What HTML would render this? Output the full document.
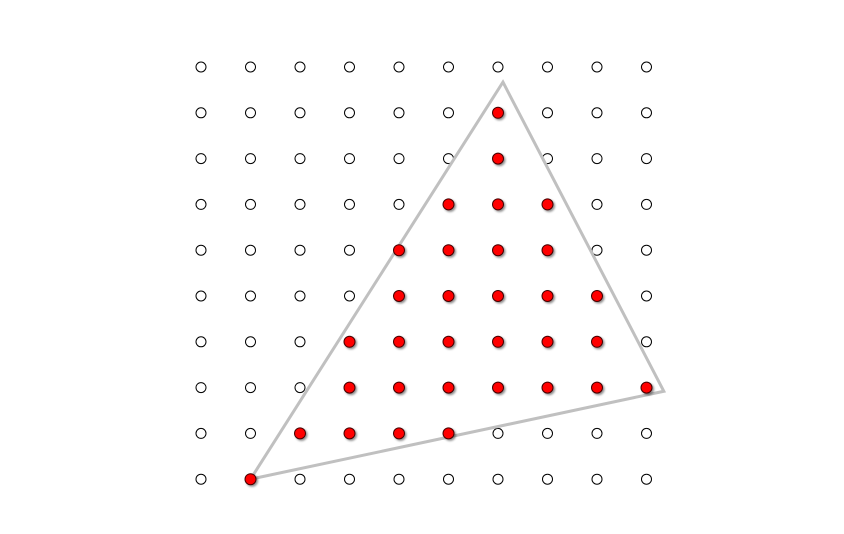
<!DOCTYPE html>
<html><head><meta charset="utf-8"><style>html,body{margin:0;padding:0;background:#fff;}svg{display:block}</style></head>
<body>
<svg id="chart" width="844" height="534" viewBox="0 0 844 534" xmlns="http://www.w3.org/2000/svg">
<defs><filter id="sh" x="-50%" y="-50%" width="200%" height="200%"><feDropShadow dx="1.5" dy="1.5" stdDeviation="1" flood-color="#000" flood-opacity="0.45"/></filter></defs>
<g id="grid"></g>
<polygon id="tri" fill="none" stroke="#c0c0c0" stroke-width="3"/>
<g id="reds"></g>
</svg>
<script>
const cols = [0,1,2,3,4,5,6,7,8,9];
const rows = [0,1,2,3,4,5,6,7,8,9];
const triangleVerts = [[6.1,0.33],[9.35,7.08],[1,9]];
const insideRows = [1,2,3,3,3,4,4,4,4,5,5,5,5,5,6,6,6,6,6,6,7,7,7,7,7,7,7,8,8,8,8,9];
const insideCols = [6,6,5,6,7,4,5,6,7,4,5,6,7,8,3,4,5,6,7,8,3,4,5,6,7,8,9,2,3,4,5,1];
const xS = c => 201 + c*49.5;
const yS = r => 67 + r*45.8;
const NS='http://www.w3.org/2000/svg';
const g=document.getElementById('grid');
rows.forEach(r=>cols.forEach(c=>{
 const e=document.createElementNS(NS,'circle');
 e.setAttribute('cx',xS(c));e.setAttribute('cy',yS(r));e.setAttribute('r',5);
 e.setAttribute('fill','#fff');e.setAttribute('stroke','#000');e.setAttribute('stroke-width',1);
 
 
 g.appendChild(e);
}));
document.getElementById('tri').setAttribute('points',triangleVerts.map(v=>xS(v[0])+','+yS(v[1])).join(' '));
const rg=document.getElementById('reds');
insideRows.forEach((r,i)=>{
 const e=document.createElementNS(NS,'circle');
 e.setAttribute('cx',xS(insideCols[i]));e.setAttribute('cy',yS(r));e.setAttribute('r',5.5);
 e.setAttribute('fill','#f00');e.setAttribute('stroke','#400');e.setAttribute('stroke-width',1);
 e.setAttribute('filter','url(#sh)');
 
 
 rg.appendChild(e);
});
</script>
</body></html>
